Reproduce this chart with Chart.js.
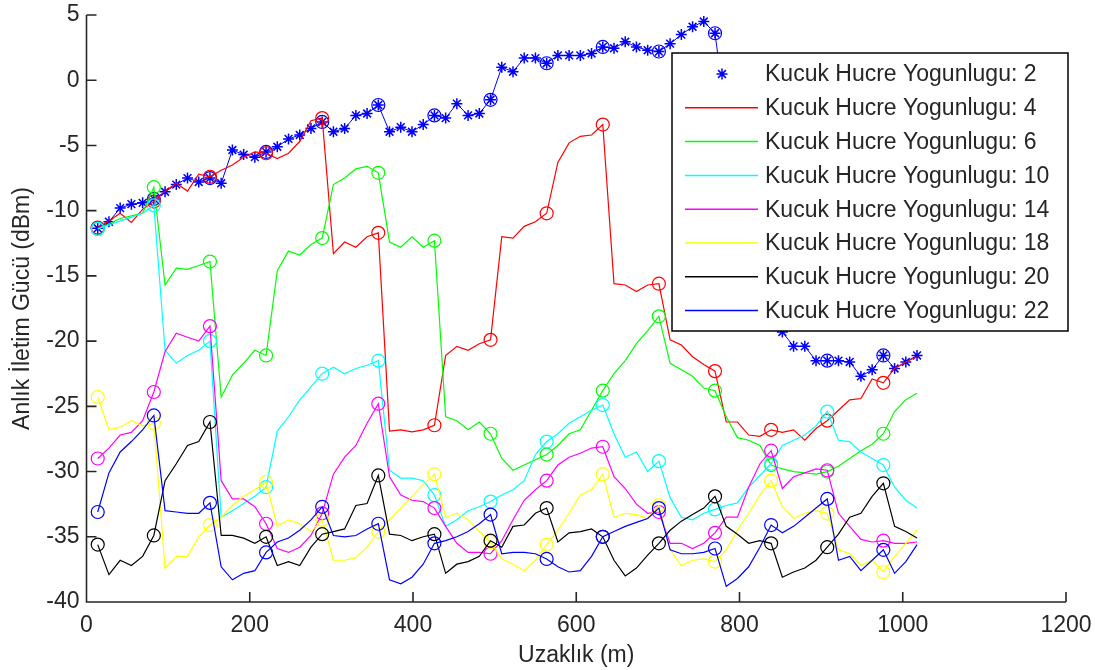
<!DOCTYPE html>
<html>
<head>
<meta charset="utf-8">
<script src="https://cdn.jsdelivr.net/npm/chart.js@4/dist/chart.umd.min.js"></script>
<style>
html,body{margin:0;padding:0;background:#ffffff;}
#wrap{width:1095px;height:670px;position:relative;}
</style>
</head>
<body>
<div id="wrap"><canvas id="c" width="1095" height="670"></canvas></div>
<script>
// ---------- data ----------
const distances = [
  13.75, 27.5, 41.25, 55, 68.75, 82.5, 96.25, 110, 123.75, 137.5,
  151.25, 165, 178.75, 192.5, 206.25, 220, 233.75, 247.5, 261.25, 275,
  288.75, 302.5, 316.25, 330, 343.75, 357.5, 371.25, 385, 398.75, 412.5,
  426.25, 440, 453.75, 467.5, 481.25, 495, 508.75, 522.5, 536.25, 550,
  563.75, 577.5, 591.25, 605, 618.75, 632.5, 646.25, 660, 673.75, 687.5,
  701.25, 715, 728.75, 742.5, 756.25, 770, 783.75, 797.5, 811.25, 825,
  838.75, 852.5, 866.25, 880, 893.75, 907.5, 921.25, 935, 948.75, 962.5,
  976.25, 990, 1003.75, 1017.5
];

const seriesLabels = [
  'Kucuk Hucre Yogunlugu: 2',
  'Kucuk Hucre Yogunlugu: 4',
  'Kucuk Hucre Yogunlugu: 6',
  'Kucuk Hucre Yogunlugu: 10',
  'Kucuk Hucre Yogunlugu: 14',
  'Kucuk Hucre Yogunlugu: 18',
  'Kucuk Hucre Yogunlugu: 20',
  'Kucuk Hucre Yogunlugu: 22'
];

const density2 = [
  -11.35, -10.85, -9.8, -9.5, -9.4, -9.1, -8.55, -8.0, -7.5, -7.8,
  -7.5, -7.9, -5.35, -5.7, -5.9, -5.5, -5.1, -4.5, -4.2, -3.7,
  -3.2, -3.95, -3.7, -2.7, -2.55, -1.9, -3.95, -3.6, -3.95, -3.4,
  -2.7, -2.9, -1.8, -2.7, -2.55, -1.5, 1.0, 0.65, 1.7, 1.7,
  1.3, 1.9, 1.9, 1.9, 2.05, 2.55, 2.45, 2.95, 2.55, 2.3,
  2.2, 2.8, 3.5, 4.1, 4.5, 3.6, -3, -9, -14, -17,
  -18.6, -19.3, -20.4, -20.4, -21.5, -21.5, -21.5, -21.6, -22.7, -22.2,
  -21.1, -22.1, -21.6, -21.1
];
const density4 = [
  -11.3, -10.8, -10.2, -10.9, -9.9, -9.3, -8.5, -7.9, -8.5, -7.2,
  -7.4, -6.9, -6.5, -5.9, -5.5, -5.6, -6.0, -5.6, -4.7, -3.1,
  -2.9, -13.3, -12.4, -12.8, -12.0, -11.7, -26.9, -26.8, -26.95, -26.8,
  -26.45, -21.1, -20.4, -20.7, -20.2, -19.9, -12.0, -12.1, -11.2, -10.85,
  -10.2, -6.3, -4.8, -4.3, -4.2, -3.4, -15.6, -15.7, -16.2, -15.7,
  -15.6, -19.9, -20.3, -21.2, -21.8, -22.3, -26.2, -26.2, -27.2, -27.3,
  -26.8, -27.0, -26.8, -27.6, -26.7, -26.1, -25.3, -24.5, -24.4, -22.9,
  -23.2, -22.1, -21.6, -21.2
];
const density6 = [
  -11.4, -11.0, -10.6, -10.4, -10.2, -8.2, -15.7, -14.4, -14.5, -14.2,
  -13.9, -24.3, -22.6, -21.7, -20.7, -21.1, -14.6, -13.1, -13.4, -12.6,
  -12.1, -8.0, -7.5, -6.8, -6.6, -7.1, -12.4, -12.8, -12.0, -12.8,
  -12.3, -25.8, -26.1, -26.8, -26.2, -27.1, -29.0, -29.9, -29.5, -29.1,
  -28.7, -28.0, -27.1, -26.8, -25.3, -23.8, -22.5, -21.5, -20.2, -19.2,
  -18.1, -21.7, -22.2, -22.7, -23.6, -23.8, -25.8, -27.4, -27.6, -28.0,
  -29.5, -29.8, -30.0, -30.1, -30.2, -30.0, -29.6, -29.0, -28.4, -27.9,
  -27.1, -25.4, -24.5, -24.0
];
const density10 = [
  -11.4, -11.1, -10.8, -10.5, -10.2, -9.6, -20.7, -21.7, -21.1, -20.7,
  -20.0, -33.5, -33.0, -32.45, -31.9, -31.2, -26.9, -25.8, -24.5, -23.5,
  -22.5, -22.0, -22.5, -22.1, -21.85, -21.5, -29.9, -30.5, -30.5, -30.7,
  -31.8, -34.2, -33.7, -33.0, -32.7, -32.3, -31.8, -31.4, -30.7, -28.7,
  -27.7, -27.1, -26.3, -25.8, -25.3, -24.9, -27.1, -28.9, -28.5, -30.0,
  -29.2, -32.0, -33.5, -33.7, -33.2, -32.9, -32.6, -32.4, -31.2, -30.3,
  -29.4, -28.0, -27.6, -27.2, -26.5, -25.4, -27.6, -27.7, -28.5, -29.0,
  -29.5, -31.2, -32.2, -32.8
];
const density14 = [
  -29.0, -28.2, -27.2, -27.0, -26.1, -23.9, -20.8, -19.4, -19.7, -20.0,
  -18.85, -30.7, -32.1, -32.1, -32.7, -34.0, -35.9, -36.2, -35.8, -34.9,
  -33.2, -30.2, -28.9, -28.0, -26.3, -24.8, -30.4, -31.8, -32.2, -32.3,
  -32.8, -34.2, -35.5, -36.2, -36.2, -36.3, -35.3, -33.7, -32.2, -31.4,
  -30.7, -29.5, -28.9, -28.6, -28.2, -28.1, -30.4, -31.3, -32.5, -33.2,
  -33.1, -35.5, -35.5, -35.9, -35.5, -34.7, -33.5, -33.5, -31.2, -29.4,
  -28.4, -31.3, -30.4, -30.1, -29.8, -29.9, -33.2, -34.2, -35.2, -35.4,
  -35.3, -35.5, -35.5, -35.4
];
const density18 = [
  -24.3, -26.8, -26.6, -26.1, -26.5, -26.3, -37.4, -36.5, -36.5, -35.0,
  -34.1, -33.5, -32.6, -31.9, -31.4, -30.8, -34.2, -33.7, -34.0, -34.6,
  -33.7, -36.8, -36.8, -36.6, -35.8, -34.6, -33.7, -32.8, -31.9, -31.0,
  -30.2, -33.5, -33.2, -33.7, -34.6, -35.4, -36.7, -37.1, -37.6, -36.8,
  -35.6, -34.5, -33.2, -31.8, -31.4, -30.2, -33.5, -33.2, -33.3, -33.6,
  -32.6, -36.0, -37.2, -36.8, -36.7, -36.9, -36.0, -34.5, -33.2, -31.8,
  -30.7, -32.7, -33.6, -33.2, -33.0, -33.2, -36.0, -36.3, -37.2, -36.8,
  -37.7, -36.5, -35.5, -34.5
];
const density20 = [
  -35.6, -37.9, -36.8, -37.2, -36.5, -34.9, -30.7, -29.4, -28.0, -27.7,
  -26.2, -34.9, -34.9, -35.1, -35.5, -35.0, -37.2, -36.9, -37.2, -35.8,
  -34.8, -34.6, -34.4, -32.6, -32.45, -30.3, -34.8, -34.9, -35.3, -35.0,
  -34.8, -37.8, -37.1, -36.9, -36.5, -35.3, -35.8, -34.2, -34.1, -33.2,
  -32.8, -35.4, -34.7, -34.6, -34.4, -35.0, -36.8, -38.0, -37.4, -36.4,
  -35.5, -34.5, -33.8, -33.3, -32.8, -31.9, -34.2, -34.8, -35.5, -35.3,
  -35.5, -38.1, -37.7, -37.4, -36.8, -35.8, -34.8, -33.5, -33.2, -31.9,
  -30.9, -34.2, -34.6, -35.1
];
const density22 = [
  -33.1, -30.1, -28.5, -27.7, -26.8, -25.7, -33.0, -33.1, -33.2, -33.2,
  -32.4, -37.3, -38.3, -37.8, -37.6, -36.2, -35.4, -35.1, -34.5, -33.7,
  -32.7, -34.9, -35.0, -34.9, -34.4, -34.0, -38.3, -38.6, -38.1, -37.1,
  -35.5, -35.3, -35.0, -34.6, -34.0, -33.3, -36.3, -36.2, -36.2, -36.3,
  -36.7, -37.3, -37.7, -37.6, -36.5, -35.0, -34.6, -34.2, -33.9, -33.6,
  -32.8, -36.0, -36.3, -36.3, -36.2, -35.9, -38.8, -38.2, -37.3, -35.8,
  -34.1, -34.7, -34.2, -33.5, -32.8, -32.1, -36.8, -36.5, -37.6, -36.8,
  -36.0, -37.8, -36.9, -35.6
];

const xTickValues = [0, 200, 400, 600, 800, 1000, 1200];
const yTickValues = [-40, -35, -30, -25, -20, -15, -10, -5, 0, 5];
const xTitle = 'Uzaklık (m)';
const yTitle = 'Anlık İletim Gücü (dBm)';

// ---------- styling ----------
const FONT = "'Liberation Sans', Arial, Helvetica, sans-serif";
const TEXT = '#262626';
const colors = ['#0000ff', '#ff0000', '#00ff00', '#00ffff', '#ff00ff', '#ffff00', '#000000', '#0000ff'];
const seriesValues = [density2, density4, density6, density10, density14, density18, density20, density22];

function pts(vals) { return vals.map((v, i) => ({ x: distances[i], y: v })); }
const markerRadius = ctx => (ctx.dataIndex % 5 === 0 ? 6.5 : 0);

const datasets = [];
// series 2 : stars joined by a thin line, circles every fifth sample
datasets.push({
  label: seriesLabels[0], data: pts(density2), borderColor: colors[0], borderWidth: 1,
  pointStyle: 'star', pointRadius: 5.5, pointBorderColor: colors[0], pointBorderWidth: 1.5,
  pointBackgroundColor: colors[0], showLine: true, order: 20
});
datasets.push({
  label: '_circles2', data: pts(density2), showLine: false, borderColor: colors[0],
  pointStyle: 'circle', pointRadius: markerRadius, pointBorderColor: colors[0],
  pointBorderWidth: 1.2, pointBackgroundColor: 'rgba(0,0,0,0)', order: 19
});
for (let s = 1; s < seriesValues.length; s++) {
  datasets.push({
    label: seriesLabels[s], data: pts(seriesValues[s]), borderColor: colors[s], borderWidth: 1.2,
    pointStyle: 'circle', pointRadius: markerRadius, pointBorderColor: colors[s],
    pointBorderWidth: 1.2, pointBackgroundColor: 'rgba(0,0,0,0)', showLine: true,
    order: 20 - 2 * s
  });
}

const matlabAxes = {
  id: 'matlabAxes',
  afterDatasetsDraw(chart) {
    const { ctx, chartArea: a, scales: { x, y } } = chart;
    ctx.save();
    ctx.strokeStyle = TEXT;
    ctx.lineWidth = 1.6;
    ctx.beginPath();
    ctx.moveTo(a.left, y.getPixelForValue(5));
    ctx.lineTo(a.left, a.bottom);
    ctx.lineTo(x.getPixelForValue(1200), a.bottom);
    xTickValues.forEach(v => { const p = x.getPixelForValue(v); ctx.moveTo(p, a.bottom); ctx.lineTo(p, a.bottom - 10); });
    yTickValues.forEach(v => { const p = y.getPixelForValue(v); ctx.moveTo(a.left, p); ctx.lineTo(a.left + 10, p); });
    ctx.stroke();

    // legend box (inside the axes, upper right)
    const bx = 672, by = 53, bw = 396, bh = 278;
    ctx.fillStyle = '#ffffff';
    ctx.fillRect(bx, by, bw, bh);
    ctx.strokeStyle = '#000000';
    ctx.lineWidth = 1.5;
    ctx.strokeRect(bx, by, bw, bh);
    ctx.font = '23px ' + FONT;
    ctx.textBaseline = 'middle';
    ctx.textAlign = 'left';
    for (let k = 0; k < seriesLabels.length; k++) {
      const ry = 74 + 33.8 * k;
      if (k === 0) {
        const cx = 722, r = 5.5;
        ctx.strokeStyle = colors[0];
        ctx.lineWidth = 1.5;
        ctx.beginPath();
        ctx.moveTo(cx - r, ry); ctx.lineTo(cx + r, ry);
        ctx.moveTo(cx, ry - r); ctx.lineTo(cx, ry + r);
        const d = r * Math.SQRT1_2;
        ctx.moveTo(cx - d, ry - d); ctx.lineTo(cx + d, ry + d);
        ctx.moveTo(cx - d, ry + d); ctx.lineTo(cx + d, ry - d);
        ctx.stroke();
      } else {
        ctx.strokeStyle = colors[k];
        ctx.lineWidth = 1.5;
        ctx.beginPath();
        ctx.moveTo(685, ry); ctx.lineTo(758, ry);
        ctx.stroke();
      }
      ctx.fillStyle = TEXT;
      ctx.fillText(seriesLabels[k], 765, ry + 1);
    }
    ctx.restore();
  }
};

new Chart(document.getElementById('c'), {
  type: 'scatter',
  data: { datasets },
  options: {
    responsive: false,
    animation: false,
    devicePixelRatio: 1,
    events: [],
    layout: { padding: { left: 0, top: 15, right: 29, bottom: 0 } },
    plugins: { legend: { display: false }, tooltip: { enabled: false } },
    scales: {
      x: {
        type: 'linear', min: 0, max: 1200,
        afterFit: s => { s.height = 68; s.paddingLeft = 0; s.paddingRight = 0; },
        afterBuildTicks: s => { s.ticks = xTickValues.map(v => ({ value: v })); },
        grid: { display: false, drawTicks: false },
        border: { display: false },
        ticks: { color: TEXT, font: { family: FONT, size: 23 }, padding: 10, maxRotation: 0, autoSkip: false,
                 callback: v => String(v) },
        title: { display: true, text: xTitle, color: TEXT, font: { family: FONT, size: 23 }, padding: { top: 0, bottom: 1 } }
      },
      y: {
        type: 'linear', min: -40, max: 5,
        afterFit: s => { s.width = 86.5; s.paddingTop = 0; s.paddingBottom = 0; },
        afterBuildTicks: s => { s.ticks = yTickValues.map(v => ({ value: v })); },
        grid: { display: false, drawTicks: false },
        border: { display: false },
        ticks: { color: TEXT, font: { family: FONT, size: 23 }, padding: 7, autoSkip: false,
                 callback: v => String(v) },
        title: { display: true, text: yTitle, color: TEXT, font: { family: FONT, size: 23 }, padding: { top: 9, bottom: 0 } }
      }
    }
  },
  plugins: [matlabAxes]
});
</script>
</body>
</html>
